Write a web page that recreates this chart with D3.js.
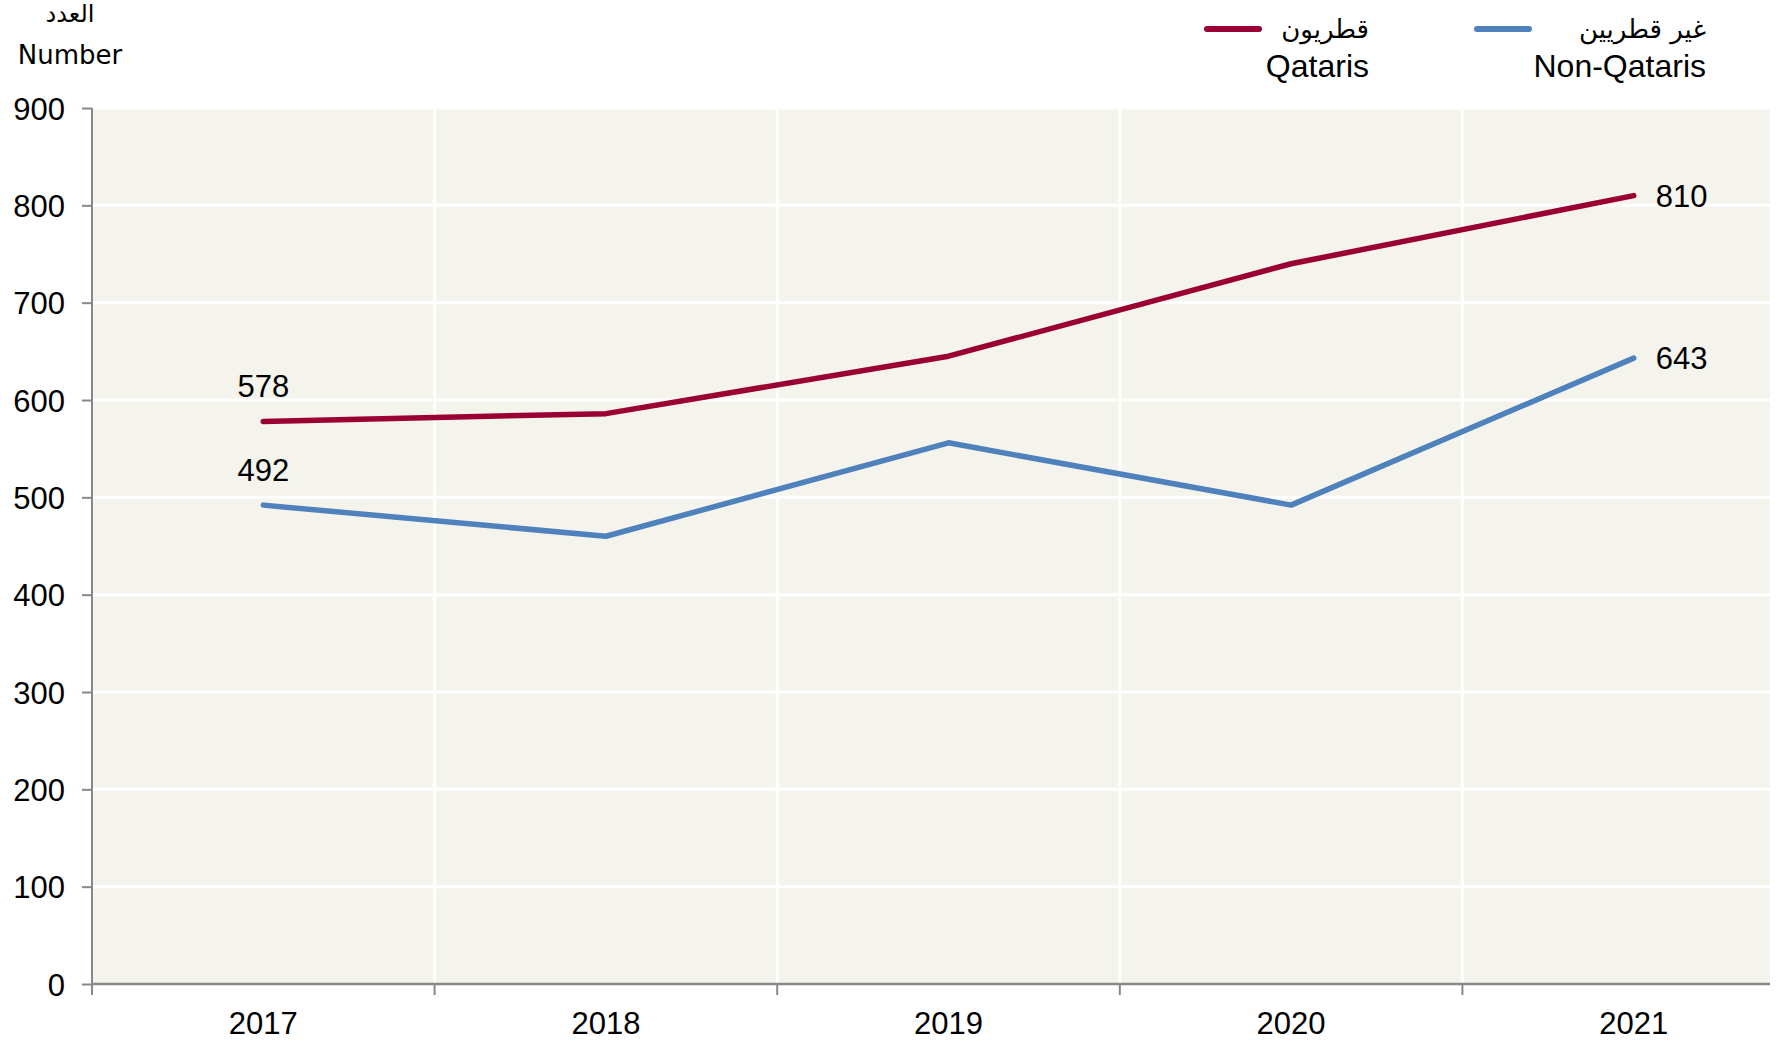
<!DOCTYPE html>
<html>
<head>
<meta charset="utf-8">
<script src="https://d3js.org/d3.v7.min.js"></script>
<style>
  body { margin: 0; background: #fff; }
  .tick text { font-family: "Liberation Sans", Arial, sans-serif; font-size: 31px; fill: #000; }
</style>
</head>
<body>
<script>
var years = ["2017", "2018", "2019", "2020", "2021"];
var qataris = [578, 586, 645, 740, 810];
var nonQataris = [492, 460, 556, 492, 643];
var yTicks = [0, 100, 200, 300, 400, 500, 600, 700, 800, 900];

var w = 1780, h = 1042;
var pLeft = 92, pRight = 1770, pTop = 108, pBottom = 984;
var band = 342.6;

var svg = d3.select("body").append("svg")
    .attr("width", w).attr("height", h);

var x = d3.scaleBand().domain(years).range([pLeft, pLeft + band * years.length]);
var y = d3.scaleLinear().domain([0, 900]).range([pBottom, pTop]);

svg.append("defs").append("clipPath").attr("id", "plot")
  .append("rect").attr("x", pLeft).attr("y", 0).attr("width", pRight - pLeft).attr("height", h);

// background
svg.append("rect")
  .attr("x", pLeft).attr("y", pTop)
  .attr("width", pRight - pLeft).attr("height", pBottom - pTop)
  .attr("fill", "#f4f3ec");

var g = svg.append("g").attr("clip-path", "url(#plot)");

// grid
g.selectAll("line.hg").data(yTicks.slice(1)).enter().append("line")
  .attr("x1", pLeft).attr("x2", pRight)
  .attr("y1", function(d) { return y(d); }).attr("y2", function(d) { return y(d); })
  .attr("stroke", "#fff").attr("stroke-width", 3);
g.selectAll("line.vg").data(years.slice(1)).enter().append("line")
  .attr("x1", function(d) { return x(d); }).attr("x2", function(d) { return x(d); })
  .attr("y1", pTop).attr("y2", pBottom)
  .attr("stroke", "#fff").attr("stroke-width", 3);

// y axis
var yAxis = d3.axisLeft(y).tickValues(yTicks).tickSize(10).tickPadding(17);
var ya = svg.append("g").attr("transform", "translate(" + pLeft + ",0)").call(yAxis);
ya.select(".domain").remove();
ya.selectAll(".tick line").attr("stroke", "#888").attr("stroke-width", 2);
ya.selectAll(".tick text").attr("dy", "0.36em");
svg.append("line").attr("x1", pLeft).attr("x2", pLeft).attr("y1", pTop).attr("y2", pBottom)
  .attr("stroke", "#888").attr("stroke-width", 2);

// x axis
svg.append("line").attr("x1", pLeft).attr("x2", pRight).attr("y1", pBottom).attr("y2", pBottom)
  .attr("stroke", "#888").attr("stroke-width", 2.5);
svg.selectAll("line.xt").data(years).enter().append("line")
  .attr("x1", function(d) { return x(d); }).attr("x2", function(d) { return x(d); })
  .attr("y1", pBottom).attr("y2", pBottom + 11)
  .attr("stroke", "#888").attr("stroke-width", 2);
svg.selectAll("text.xl").data(years).enter().append("text")
  .attr("x", function(d) { return x(d) + x.bandwidth() / 2; })
  .attr("y", pBottom + 50)
  .attr("text-anchor", "middle")
  .style("font-family", "Liberation Sans, Arial, sans-serif")
  .style("font-size", "31px")
  .text(function(d) { return d; });

// lines
var line = d3.line()
  .x(function(d, i) { return x(years[i]) + x.bandwidth() / 2; })
  .y(function(d) { return y(d); });

var series = [
  { name: "Qataris", values: qataris, color: "#9b0033" },
  { name: "Non-Qataris", values: nonQataris, color: "#4f81bd" }
];
series.forEach(function(s) {
  svg.append("path").datum(s.values)
    .attr("d", line)
    .attr("fill", "none")
    .attr("stroke", s.color)
    .attr("stroke-width", 5.5)
    .attr("stroke-linecap", "round")
    .attr("stroke-linejoin", "round");
});

// value labels
function label(tx, ty, t, anchor) {
  svg.append("text").attr("x", tx).attr("y", ty)
    .attr("text-anchor", anchor)
    .style("font-family", "Liberation Sans, Arial, sans-serif")
    .style("font-size", "31px")
    .text(t);
}
var cx0 = x(years[0]) + x.bandwidth() / 2;
var cx4 = x(years[4]) + x.bandwidth() / 2;
label(cx0, y(qataris[0]) - 24, qataris[0], "middle");
label(cx0, y(nonQataris[0]) - 24, nonQataris[0], "middle");
label(cx4 + 22, y(qataris[4]) + 11, qataris[4], "start");
label(cx4 + 22, y(nonQataris[4]) + 11, nonQataris[4], "start");

// axis title
svg.append("text").attr("x", 70).attr("y", 22).attr("text-anchor", "middle")
  .style("font-family", "DejaVu Sans, sans-serif").style("font-size", "24px")
  .text("العدد");
svg.append("text").attr("x", 70).attr("y", 64).attr("text-anchor", "middle")
  .style("font-family", "DejaVu Sans, sans-serif").style("font-size", "26px")
  .text("Number");

// legend
var legend = [
  { ar: "قطريون", en: "Qataris", color: "#9b0033", lx: 1207, tx: 1369 },
  { ar: "غير قطريين", en: "Non-Qataris", color: "#4f81bd", lx: 1477, tx: 1706 }
];
legend.forEach(function(l) {
  svg.append("line").attr("x1", l.lx).attr("x2", l.lx + 52).attr("y1", 29).attr("y2", 29)
    .attr("stroke", l.color).attr("stroke-width", 6).attr("stroke-linecap", "round");
  svg.append("text").attr("x", l.tx).attr("y", 38).attr("text-anchor", "end")
    .style("font-family", "DejaVu Sans, sans-serif").style("font-size", "26px")
    .text(l.ar);
  svg.append("text").attr("x", l.tx).attr("y", 77).attr("text-anchor", "end")
    .style("font-family", "Liberation Sans, Arial, sans-serif").style("font-size", "32px")
    .text(l.en);
});
</script>
</body>
</html>
